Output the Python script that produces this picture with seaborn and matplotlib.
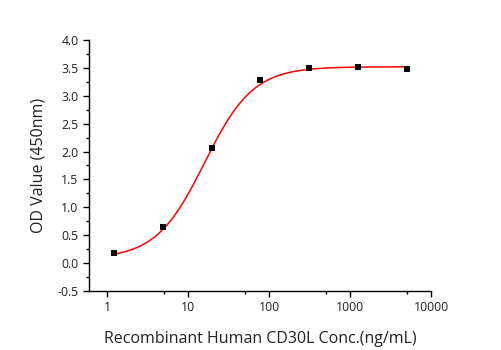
import numpy as np
import pandas as pd
import matplotlib
matplotlib.use("Agg")
import matplotlib.pyplot as plt
import matplotlib.ticker as mticker
import seaborn as sns

conc = [1.22, 4.88, 19.5, 78.1, 312.5, 1250, 5000]
od = [0.19, 0.65, 2.06, 3.29, 3.49, 3.52, 3.48]

# Fitted 4PL curve parameters
fit_bottom = 0.08
fit_top = 3.52
fit_ec50 = 16.0
fit_hill = 1.45

x_ticks = [1, 10, 100, 1000, 10000]
x_tick_labels = ["1", "10", "100", "1000", "10000"]
y_ticks = [-0.5, 0.0, 0.5, 1.0, 1.5, 2.0, 2.5, 3.0, 3.5, 4.0]

sns.set_style("ticks")
plt.rcParams["font.family"] = ["Open Sans", "DejaVu Sans"]

points = pd.DataFrame({"conc": conc, "od": od})
xs = np.logspace(np.log10(conc[0]), np.log10(conc[-1]), 300)
curve = pd.DataFrame({
    "conc": xs,
    "od": fit_bottom + (fit_top - fit_bottom) / (1 + (fit_ec50 / xs) ** fit_hill),
})

fig = plt.figure(figsize=(5.01, 3.5), dpi=100)
ax = fig.add_axes([0.1776, 0.1686, 0.6830, 0.7171])

sns.lineplot(data=curve, x="conc", y="od", ax=ax, color="#ff0000", linewidth=1.1)
sns.scatterplot(data=points, x="conc", y="od", ax=ax, marker="s", color="black",
                s=18, edgecolor="black", linewidth=0, zorder=3)

ax.set_xscale("log")
ax.set_xlim(10 ** -0.222, 10000)
ax.set_ylim(-0.5, 4.0)
ax.set_xticks(x_ticks)
ax.set_xticklabels(x_tick_labels)
ax.xaxis.set_minor_locator(mticker.FixedLocator([5 * t for t in x_ticks[:-1]]))
ax.xaxis.set_minor_formatter(mticker.NullFormatter())
ax.set_yticks(y_ticks)
ax.yaxis.set_major_formatter(mticker.FormatStrFormatter("%.1f"))
ax.yaxis.set_minor_locator(mticker.MultipleLocator(0.25))

ax.tick_params(which="major", direction="out", length=4, width=1, labelsize=8.8,
               color="black", labelcolor="#222222")
ax.tick_params(which="minor", direction="out", length=2.5, width=1, color="black")
for side in ["left", "bottom"]:
    ax.spines[side].set_linewidth(1)
    ax.spines[side].set_color("black")
sns.despine(ax=ax)

ax.set_xlabel("Recombinant Human CD30L Conc.(ng/mL)", fontsize=11.5, labelpad=12,
              color="#222222")
ax.set_ylabel("OD Value (450nm)", fontsize=11.5, labelpad=8, color="#222222")

fig.savefig("out.png", dpi=100)
